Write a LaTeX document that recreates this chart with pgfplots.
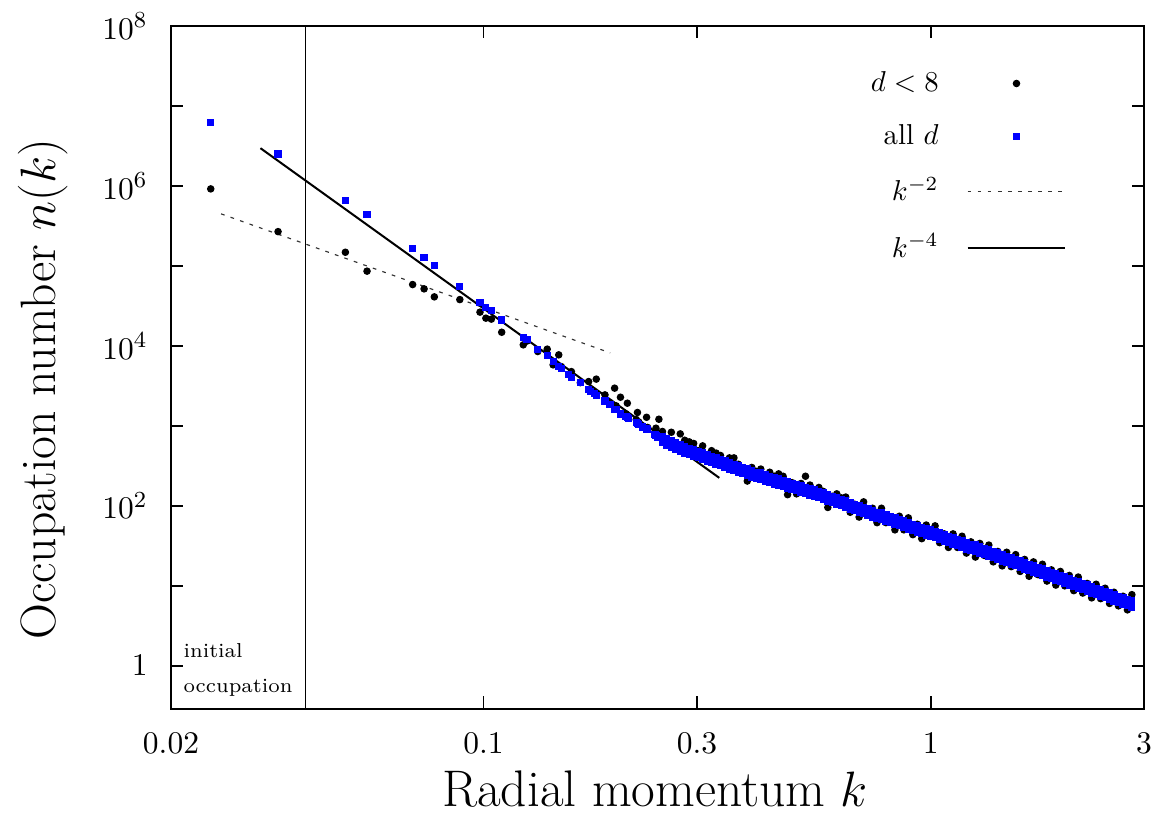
\documentclass[border=0pt]{standalone}
\usepackage{pgfplots}
\pgfplotsset{compat=1.18}
\pgfplotsset{
  markleg/.style={legend image code/.code={\path[draw=none] (0pt,0pt) -- (34pt,0pt); \draw[##1, only marks] plot coordinates {(17pt,0pt)};}},
  lineleg/.style={legend image code/.code={\draw[##1] (0pt,0pt) -- (34pt,0pt);}},
}
\begin{document}
\begin{tikzpicture}
\useasboundingbox (-59.44pt,-37.3pt) rectangle (340.62pt,246.3pt);
\begin{axis}[
  at={(0pt,0pt)}, anchor=south west,
  scale only axis, width=338.2pt, height=237.3pt,
  xmode=log, ymode=log,
  xmin=0.02, xmax=3, ymin=0.292, ymax=1e8,
  xtick={0.02,0.1,0.3,1,3}, xticklabels={0.02,0.1,0.3,1,3},
  ytick={1,10,100,1000,10000,100000,1000000,10000000,100000000},
  yticklabels={$1$,{},$10^2$,{},$10^4$,{},$10^6$,{},$10^8$},
  xminorticks=false, yminorticks=false,
  tick align=inside, tick pos=both,
  major tick length=4.3pt,
  axis line style={line width=0.7pt},
  every tick/.style={black, line width=0.6pt},
  ticklabel style={font=\fontsize{10.95}{13}\selectfont},
  xticklabel style={yshift=-4.75pt},
  yticklabel style={xshift=-4.6pt},
  xlabel={Radial momentum $k$},
  ylabel={Occupation number $n(k)$},
  label style={font=\LARGE},
  xlabel style={font=\fontsize{17.9}{21}\selectfont, at={(axis description cs:0.4975,0)}, anchor=base, yshift=-34.1pt},
  ylabel style={at={(axis description cs:-0.119,0.468)}, anchor=base},
  legend cell align=right, legend plot pos=right,
  legend style={draw=none, fill=none, inner xsep=0pt, inner ysep=0pt,
    at={(axis description cs:0.9208,0.9427)}, anchor=north east,
    font=\normalsize, row sep=6pt, column sep=7.7pt,
    nodes={inner sep=2pt}},
]
\addplot[only marks, mark=*, mark size=1.1pt, black, markleg]
coordinates {
(0.02454,9.17e5) (0.03471,2.68e5) (0.04909,1.48e5) (0.05488,8.59e4) (0.06942,5.84e4) (0.07363,5.16e4) (0.07762,4.10e4) (0.08850,3.79e4) (0.09818,2.64e4) (0.1012,2.22e4) (0.1041,2.16e4) (0.1098,1.48e4) (0.1227,1.03e4) (0.1251,1.15e4) (0.1322,8.5e3) (0.1388,9.1e3) (0.1431,5.79e3) (0.1473,7.72e3) (0.1493,5.5e3) (0.1552,4.4e3) (0.1572,4.77e3) (0.1646,3.47e3) (0.1718,3.58e3) (0.1736,2.82e3) (0.1770,2.6e3) (0.1787,3.84e3) (0.1869,2.44e3) (0.1917,1.95e3) (0.1964,2.96e3) (0.1979,1.78e3) (0.2024,2.28e3) (0.2083,1.41e3) (0.2097,1.92e3) (0.2111,1.32e3) (0.2195,1.2e3) (0.2209,1.47e3) (0.2223,1.12e3) (0.2263,1.0e3) (0.2315,1.28e3) (0.2328,955) (0.2417,794) (0.2430,935) (0.2454,800) (0.2467,1.21e3)
(0.2512,851.1) (0.2570,691.8) (0.2630,831.8) (0.2692,588.8) (0.2754,794.3) (0.2818,660.7) (0.2884,631.0) (0.2951,602.6) (0.3020,489.8) (0.3090,562.3) (0.3162,436.5) (0.3236,489.8) (0.3311,457.1) (0.3388,426.6) (0.3467,354.8) (0.3548,398.1) (0.3631,398.1) (0.3715,331.1) (0.3802,295.1) (0.3890,204.2) (0.3981,302.0) (0.4074,269.2) (0.4169,288.4) (0.4266,239.9) (0.4365,263.0) (0.4467,234.4) (0.4571,251.2) (0.4677,234.4) (0.4786,138.0) (0.4898,195.0) (0.5012,141.3) (0.5129,190.5) (0.5248,234.4) (0.5370,182.0) (0.5495,151.4) (0.5623,169.8) (0.5754,151.4) (0.5888,95.50) (0.6026,131.8) (0.6166,141.3) (0.6310,125.9)
(0.6457,128.8) (0.6607,83.18) (0.6761,104.7) (0.6918,72.44) (0.7079,112.2) (0.7244,77.62) (0.7413,93.33) (0.7586,61.66) (0.7762,93.33) (0.7943,61.66) (0.8128,70.79) (0.8318,50.12) (0.8511,74.13) (0.8710,50.12) (0.8913,70.79) (0.9120,43.65) (0.9333,58.88) (0.9550,38.90) (0.9772,57.54) (1.000,41.69) (1.023,56.23) (1.047,34.67) (1.072,44.67) (1.096,30.20) (1.122,44.67) (1.148,30.20) (1.175,41.69) (1.202,25.70) (1.230,35.48) (1.259,22.91) (1.288,33.88) (1.318,23.99) (1.349,32.36) (1.380,19.95) (1.413,26.92) (1.445,17.78) (1.479,26.30) (1.514,17.38) (1.549,24.55) (1.585,15.14) (1.622,21.38) (1.660,13.18) (1.698,19.95) (1.738,13.80) (1.778,18.62) (1.820,11.48) (1.862,15.85) (1.905,10.23) (1.950,15.14) (1.995,10.00) (2.042,13.49) (2.089,8.710) (2.138,12.88) (2.188,8.128) (2.239,10.72) (2.291,7.079) (2.344,10.47) (2.399,6.918) (2.455,9.333) (2.512,6.026) (2.570,8.318) (2.630,5.623) (2.692,7.413) (2.754,5.012) (2.818,7.762)
};
\addlegendentry{$d<8$}
\addplot[only marks, mark=square*, mark size=1.05pt, blue, markleg]
coordinates {
(0.02454,6.25e6) (0.03471,2.51e6) (0.04909,6.49e5) (0.05488,4.43e5) (0.06942,1.645e5) (0.07363,1.27e5) (0.07762,1.0e5) (0.08850,5.46e4) (0.09818,3.48e4) (0.1012,3.01e4) (0.1041,2.74e4) (0.1098,2.11e4) (0.1227,1.27e4) (0.1251,1.19e4) (0.1322,9.10e3) (0.1388,7.56e3) (0.1431,6.37e3) (0.1473,5.51e3) (0.1493,5.25e3) (0.1552,4.34e3) (0.1572,4.07e3) (0.1646,3.48e3) (0.1718,2.82e3) (0.1736,2.69e3) (0.1770,2.56e3) (0.1787,2.40e3) (0.1869,2.05e3) (0.1917,1.83e3) (0.1964,1.62e3) (0.1979,1.585e3) (0.2024,1.41e3) (0.2083,1.31e3) (0.2097,1.26e3) (0.2111,1.23e3) (0.2195,1.10e3) (0.2209,1.07e3) (0.2223,1.05e3) (0.2263,966) (0.2315,912) (0.2328,891) (0.2417,772) (0.2430,759) (0.2454,724) (0.2467,715)
(0.2512,741.3) (0.2512,616.6) (0.2570,691.8) (0.2570,575.4) (0.2630,645.7) (0.2630,537.0) (0.2692,616.6) (0.2692,512.9) (0.2754,575.4) (0.2754,478.6) (0.2818,549.5) (0.2818,457.1) (0.2884,524.8) (0.2884,436.5) (0.2951,501.2) (0.2951,416.9) (0.3020,478.6) (0.3020,398.1) (0.3090,457.1) (0.3090,380.2)
(0.3162,436.5) (0.3162,363.1) (0.3236,416.9) (0.3236,346.7) (0.3311,398.1) (0.3311,331.1) (0.3388,380.2) (0.3388,316.2) (0.3467,363.1) (0.3467,302.0) (0.3548,346.7) (0.3548,288.4) (0.3631,331.1) (0.3631,275.4) (0.3715,316.2) (0.3715,263.0) (0.3802,302.0) (0.3802,251.2) (0.3890,288.4) (0.3890,239.9)
(0.3981,275.4) (0.3981,229.1) (0.4074,263.0) (0.4074,218.8) (0.4169,257.0) (0.4169,213.8) (0.4266,245.5) (0.4266,204.2) (0.4365,234.4) (0.4365,195.0) (0.4467,223.9) (0.4467,186.2) (0.4571,218.8) (0.4571,182.0) (0.4677,208.9) (0.4677,173.8) (0.4786,199.5) (0.4786,166.0) (0.4898,190.5) (0.4898,158.5)
(0.5012,186.2) (0.5012,154.9) (0.5129,177.8) (0.5129,147.9) (0.5248,169.8) (0.5248,141.3) (0.5370,162.2) (0.5370,134.9) (0.5495,158.5) (0.5495,131.8) (0.5623,151.4) (0.5623,125.9) (0.5754,144.5) (0.5754,120.2) (0.5888,138.0) (0.5888,114.8) (0.6026,131.8) (0.6026,109.6) (0.6166,125.9) (0.6166,104.7)
(0.6310,120.2) (0.6310,100.0) (0.6457,114.8) (0.6457,95.50) (0.6607,109.6) (0.6607,91.20) (0.6761,104.7) (0.6761,87.10) (0.6918,100.0) (0.6918,83.18) (0.7079,95.50) (0.7079,79.43) (0.7244,91.20) (0.7244,75.86) (0.7413,87.10) (0.7413,72.44) (0.7586,83.18) (0.7586,69.18) (0.7762,81.28) (0.7762,67.61)
(0.7943,77.62) (0.7943,64.57) (0.8128,74.13) (0.8128,61.66) (0.8318,70.79) (0.8318,58.88) (0.8511,67.61) (0.8511,56.23) (0.8710,64.57) (0.8710,53.70) (0.8913,61.66) (0.8913,51.29) (0.9120,58.88) (0.9120,48.98) (0.9333,56.23) (0.9333,46.77) (0.9550,53.70) (0.9550,44.67) (0.9772,51.29) (0.9772,42.66)
(1.000,50.12) (1.000,41.69) (1.023,47.86) (1.023,39.81) (1.047,45.71) (1.047,38.02) (1.072,43.65) (1.072,36.31) (1.096,41.69) (1.096,34.67) (1.122,39.81) (1.122,33.11) (1.148,38.02) (1.148,31.62) (1.175,36.31) (1.175,30.20) (1.202,34.67) (1.202,28.84) (1.230,33.11) (1.230,27.54)
(1.259,32.36) (1.259,26.92) (1.288,30.90) (1.288,25.70) (1.318,29.51) (1.318,24.55) (1.349,28.18) (1.349,23.44) (1.380,26.92) (1.380,22.39) (1.413,25.70) (1.413,21.38) (1.445,24.55) (1.445,20.42) (1.479,23.44) (1.479,19.50) (1.514,22.39) (1.514,18.62) (1.549,21.38) (1.549,17.78)
(1.585,20.42) (1.585,16.98) (1.622,19.50) (1.622,16.22) (1.660,18.62) (1.660,15.49) (1.698,17.78) (1.698,14.79) (1.738,16.98) (1.738,14.13) (1.778,16.22) (1.778,13.49) (1.820,15.49) (1.820,12.88) (1.862,14.79) (1.862,12.30) (1.905,14.13) (1.905,11.75) (1.950,13.49) (1.950,11.22)
(1.995,12.88) (1.995,10.72) (2.042,12.30) (2.042,10.23) (2.089,11.75) (2.089,9.772) (2.138,11.22) (2.138,9.333) (2.188,10.72) (2.188,8.913) (2.239,10.23) (2.239,8.511) (2.291,9.772) (2.291,8.128) (2.344,9.333) (2.344,7.762) (2.399,8.913) (2.399,7.413) (2.455,8.511) (2.455,7.079)
(2.512,8.128) (2.512,6.761) (2.570,7.762) (2.570,6.457) (2.630,7.413) (2.630,6.166) (2.692,7.079) (2.692,5.888) (2.754,6.761) (2.754,5.623) (2.818,6.457) (2.818,5.370)
};
\addlegendentry{all $d$}
\addplot[black!80, line width=0.4pt, dash pattern=on 1.3pt off 2.2pt, lineleg]
coordinates {(0.02588,4.47e5) (0.192,8175)};
\addlegendentry{$k^{-2}$}
\addplot[black, line width=0.7pt, lineleg]
coordinates {(0.0317,2.96e6) (0.3367,223.9)};
\addlegendentry{$k^{-4}$}
\addplot[black, line width=0.5pt, forget plot] coordinates {(0.04,0.292) (0.04,1e8)};
\node[anchor=base west, font=\scriptsize, inner sep=0pt] at (axis description cs:0.0123,0.0742) {initial};
\node[anchor=base west, font=\scriptsize, inner sep=0pt] at (axis description cs:0.0123,0.0234) {occupation};
\end{axis}
\end{tikzpicture}
\end{document}
